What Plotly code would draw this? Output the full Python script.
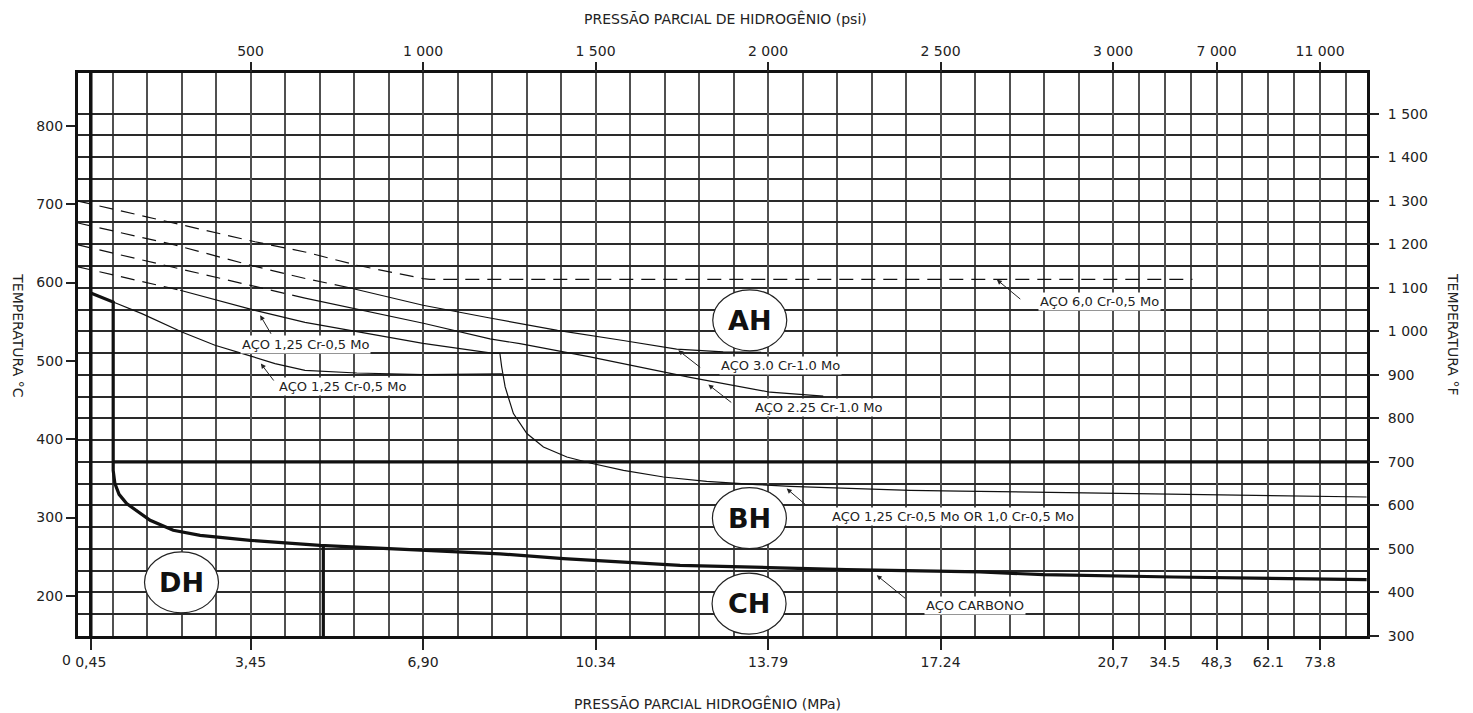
import plotly.graph_objects as go

# ---------------- eixos / rótulos ----------------
# eixo x em divisões da grade do diagrama
mpa_rotulos = ["0,45", "3,45", "6,90", "10.34", "13.79", "17.24", "20,7", "34.5", "48,3", "62.1", "73.8"]
mpa_pos = [0.37, 5, 10, 15, 20, 25, 30, 31.5, 33, 34.5, 36]
psi_rotulos = ["500", "1 000", "1 500", "2 000", "2 500", "3 000", "7 000", "11 000"]
psi_pos = [5, 10, 15, 20, 25, 30, 33, 36]
grade_x = list(range(1, 31)) + [30.75, 31.5, 32.25, 33, 33.75, 34.5, 35.25, 36, 36.75]
temp_c_ticks = [200, 300, 400, 500, 600, 700, 800]
temp_f_ticks = [300, 400, 500, 600, 700, 800, 900, 1000, 1100, 1200, 1300, 1400, 1500]
temp_f_ticktext = ["300", "400", "500", "600", "700", "800", "900", "1 000", "1 100", "1 200", "1 300", "1 400", "1 500"]
grade_f = list(range(350, 1501, 50))
faixa_x = [0, 37.36]
faixa_f = [300, 1593.3]

# ---------------- curvas (°C) ----------------
aco_carbono_x = [0.37, 1.02, 1.02, 1.07, 1.19, 1.41, 2.09, 2.76, 3.54, 4.99, 7.01, 10.01, 12.23, 14.07,
                 17.45, 20.03, 22.28, 26.14, 27.98, 31.75, 33.76, 37.35]
aco_carbono_y = [586.6, 575.1, 360.3, 343.4, 329.7, 317.9, 296.5, 283.8, 277.4, 271.0, 264.6, 258.3, 253.8,
                 247.7, 239.1, 236.2, 233.6, 230.6, 227.2, 224.2, 222.9, 220.9]

limite_700f_x = [1.02, 37.36]
limite_700f_y = [371.1, 371.1]
limite_vert_x = [7.11, 7.11]
limite_vert_y = [264.4, 148.9]

cr125_inf_x = [1.02, 1.85, 3.01, 3.97, 4.94, 5.71, 6.58, 8.08, 10.01, 11.94, 12.3]
cr125_inf_y = [575.1, 560.3, 536.8, 519.9, 507.1, 496.5, 488.0, 484.5, 482.5, 483.8, 483.5]

cr125_sup_x = [0, 2.96, 5.13, 6.58, 8.09, 10.0, 11.94, 12.2]
cr125_sup_y = [620, 590.1, 564.5, 549.2, 537.7, 522.4, 510.3, 510.0]
cr125_sup_tracejado = 2  # pontos iniciais tracejados

cr125_ou_cr10_x = [12.2, 12.23, 12.28, 12.38, 12.62, 13.01, 13.49, 14.17, 14.84, 15.81, 16.97, 18.22,
                   19.67, 20.64, 22.57, 24.12, 25.57, 29.62, 37.35]
cr125_ou_cr10_y = [510.0, 509.0, 492.2, 466.7, 432.7, 407.2, 390.1, 377.3, 369.7, 360.3, 351.8, 346.3,
                   342.1, 339.9, 337.0, 334.8, 333.9, 331.6, 326.3]

cr30_x = [0, 2.8, 5.0, 6.6, 7.8, 10.0, 11.9, 12.8, 13.9, 15.8, 17.35, 18.7, 19.8]
cr30_y = [676, 648, 622, 605, 594, 571, 555, 548, 539, 526, 515, 511.5, 511]
cr30_tracejado = 5

cr225_x = [0, 2.14, 5.04, 6.58, 10.01, 11.94, 12.81, 14.84, 17.74, 20.06, 21.6]
cr225_y = [648, 626, 596, 580, 548, 528, 522, 505, 479, 460, 455]
cr225_tracejado = 4

cr60_x = [0, 2.8, 5.13, 6.58, 8.09, 10.0, 10.2, 32.3]
cr60_y = [704, 676, 652, 639, 622, 605, 604, 604]

# ---------------- rótulos ----------------
regioes = ["AH", "BH", "CH", "DH"]
regioes_x = [19.47, 19.46, 19.45, 3.0]
regioes_y = [551.8, 299.3, 190.2, 217.4]

rotulos_aco = ["AÇO 1,25 Cr-0,5 Mo", "AÇO 1,25 Cr-0,5 Mo", "AÇO 3.0 Cr-1.0 Mo", "AÇO 2.25 Cr-1.0 Mo",
               "AÇO 6,0 Cr-0,5 Mo", "AÇO 1,25 Cr-0,5 Mo OR 1,0 Cr-0,5 Mo", "AÇO CARBONO"]
rotulos_x = [6.59, 7.68, 20.36, 21.46, 29.6, 25.37, 26.01]
rotulos_y = [521.1, 466.7, 494.3, 439.9, 576.4, 300.8, 188.1]
setas_x = [5.28, 5.30, 17.40, 18.27, 26.63, 20.54, 23.15]
setas_y = [558.2, 496.5, 513.5, 469.7, 603.7, 337.0, 226.4]
setas_ax = [11.7, 14, 23.4, 24.4, 25, 21.6, 30]
setas_ay = [20, 18.4, 18.3, 19, 20.7, 18.4, 24.3]

# ---------------------------------------------------------
def f2c(f):
    return (f - 32) / 1.8

faixa_c = [f2c(faixa_f[0]), f2c(faixa_f[1])]
grade_c = [f2c(f) for f in grade_f]

FONTE = "DejaVu Sans"
PRETO = "#111111"
fig = go.Figure()

def linha(x, y, largura=1.3, dash="solid"):
    fig.add_trace(go.Scatter(x=x, y=y, mode="lines", line=dict(color=PRETO, width=largura, dash=dash),
                             showlegend=False, hoverinfo="skip"))

TRACO = "14px,8px"
linha(cr60_x, cr60_y, 1.2, TRACO)
linha(cr30_x[:cr30_tracejado], cr30_y[:cr30_tracejado], 1.2, TRACO)
linha(cr30_x[cr30_tracejado - 1:], cr30_y[cr30_tracejado - 1:], 1.2)
linha(cr225_x[:cr225_tracejado], cr225_y[:cr225_tracejado], 1.2, TRACO)
linha(cr225_x[cr225_tracejado - 1:], cr225_y[cr225_tracejado - 1:], 1.2)
linha(cr125_sup_x[:cr125_sup_tracejado], cr125_sup_y[:cr125_sup_tracejado], 1.2, TRACO)
linha(cr125_sup_x[cr125_sup_tracejado - 1:], cr125_sup_y[cr125_sup_tracejado - 1:], 1.2)
linha(cr125_inf_x, cr125_inf_y, 1.2)
linha(cr125_ou_cr10_x, cr125_ou_cr10_y, 1.2)
linha(aco_carbono_x, aco_carbono_y, 3.2)
linha(limite_700f_x, limite_700f_y, 3.2)
linha(limite_vert_x, limite_vert_y, 3.2)

# traços auxiliares para ativar os eixos secundários
fig.add_trace(go.Scatter(x=[5], y=[500], xaxis="x2", yaxis="y", mode="markers",
                         marker=dict(opacity=0), showlegend=False, hoverinfo="skip"))
fig.add_trace(go.Scatter(x=[5], y=[1000], xaxis="x", yaxis="y2", mode="markers",
                         marker=dict(opacity=0), showlegend=False, hoverinfo="skip"))

# linha de 0,45 MPa
fig.add_shape(type="line", xref="x", yref="paper", x0=mpa_pos[0], x1=mpa_pos[0], y0=0, y1=1,
              line=dict(color=PRETO, width=3.5), layer="above")

# elipses das regiões
for nome, cx, cy in zip(regioes, regioes_x, regioes_y):
    fig.add_shape(type="circle", xref="x", yref="y", xsizemode="pixel", ysizemode="pixel",
                  xanchor=cx, yanchor=cy, x0=-37, x1=37, y0=-30.5, y1=30.5,
                  line=dict(color="#222", width=1.2), fillcolor="white", layer="above")
    fig.add_annotation(x=cx, y=cy, text="<b>" + nome + "</b>", showarrow=False,
                       font=dict(family=FONTE, size=27, color="#111"))

for t, x, y in zip(rotulos_aco, rotulos_x, rotulos_y):
    fig.add_annotation(x=x, y=y, text=t, showarrow=False, bgcolor="white", borderpad=1,
                       font=dict(family=FONTE, size=13, color="#222"))
for x, y, ax, ay in zip(setas_x, setas_y, setas_ax, setas_ay):
    fig.add_annotation(x=x, y=y, text="", showarrow=True, ax=ax, ay=ay, arrowhead=2,
                       arrowsize=1, arrowwidth=1, arrowcolor="#222")

# títulos (posições em pixels da página -> fração da área do gráfico)
W0, W1, H0, H1 = 78, 1366.7, 72.7, 635.7
def px(xp):
    return (xp - W0) / (W1 - W0)
def py(yp):
    return (H1 - yp) / (H1 - H0)

def titulo(xp, yp, texto, ang=0):
    fig.add_annotation(xref="paper", yref="paper", x=px(xp), y=py(yp), text=texto, textangle=ang,
                       xanchor="center", yanchor="middle", showarrow=False,
                       font=dict(family=FONTE, size=14, color="#222"))

titulo(725, 18, "PRESSÃO PARCIAL DE HIDROGÊNIO (psi)")
titulo(707, 703, "PRESSÃO PARCIAL HIDROGÊNIO (MPa)")
titulo(18, 335, "TEMPERATURA °C", 90)
titulo(1452, 334, "TEMPERATURA °F", 90)
titulo(67, 660, "0")

tickfont = dict(family=FONTE, size=14, color="#222")
GRID_V = "#505050"
GRID_H = "#2a2a2a"
# a página tem margem de 8 px: figura 1465x705 desenhada a partir de (8, 8)
fig.update_layout(
    width=1465, height=705,
    margin=dict(l=70, r=106, t=65, b=77),
    paper_bgcolor="white", plot_bgcolor="white",
    showlegend=False,
    xaxis=dict(range=faixa_x, tickmode="array", tickvals=mpa_pos, ticktext=mpa_rotulos,
               ticks="outside", ticklen=11, tickwidth=1.5, tickcolor="#222", tickfont=tickfont,
               showgrid=True, gridcolor=GRID_V, gridwidth=1.6, zeroline=False,
               showline=True, linewidth=3.2, linecolor=PRETO, mirror=True,
               minor=dict(tickmode="array", tickvals=grade_x, showgrid=True, gridcolor=GRID_V,
                          gridwidth=1.6, ticks="")),
    xaxis2=dict(range=faixa_x, overlaying="x", side="top", tickmode="array", tickvals=psi_pos,
                ticktext=psi_rotulos, ticks="outside", ticklen=10, tickwidth=1.5, tickcolor="#222",
                tickfont=tickfont, showgrid=False, zeroline=False, showline=False),
    yaxis=dict(range=faixa_c, tickmode="array", tickvals=temp_c_ticks,
               ticks="outside", ticklen=9, tickwidth=1.5, tickcolor="#222", tickfont=tickfont,
               showgrid=False, zeroline=False, showline=True, linewidth=3.2, linecolor=PRETO, mirror=True,
               minor=dict(tickmode="array", tickvals=grade_c, showgrid=True, gridcolor=GRID_H,
                          gridwidth=1.5, ticks="")),
    yaxis2=dict(range=faixa_f, overlaying="y", side="right", tickmode="array", tickvals=temp_f_ticks,
                ticktext=temp_f_ticktext, ticks="outside", ticklen=11, tickwidth=1.5, tickcolor="#222",
                tickfont=tickfont, ticklabelstandoff=6, showgrid=False, zeroline=False, showline=False),
)

fig.write_html("out.html")
